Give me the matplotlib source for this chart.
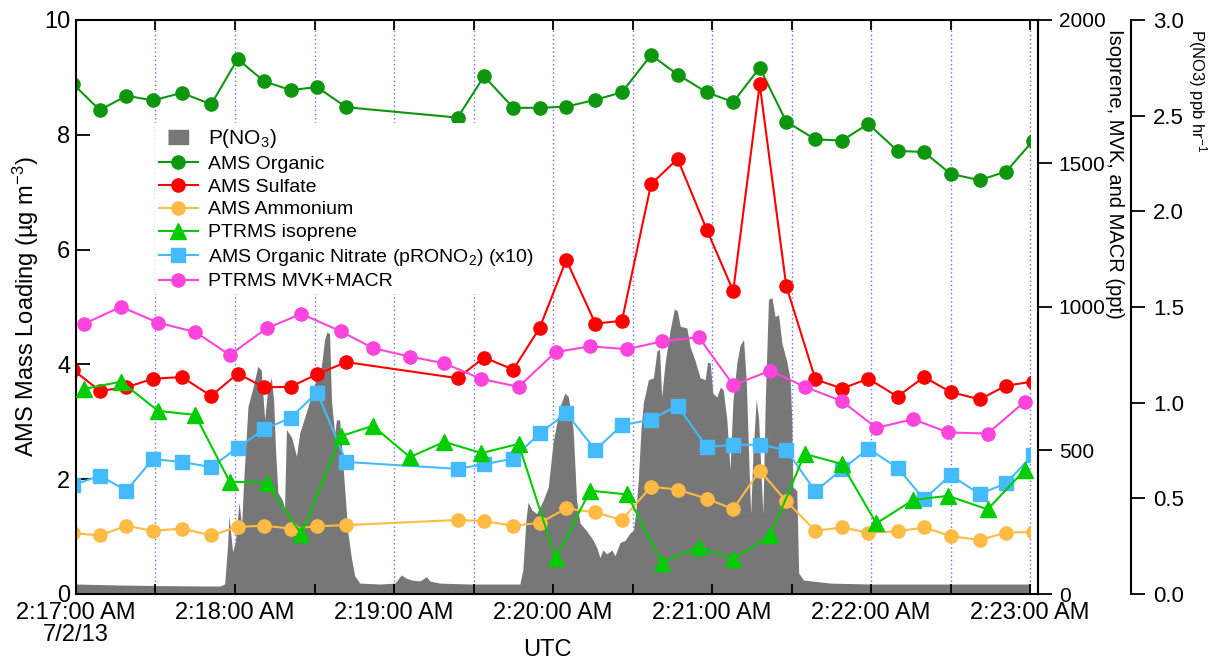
"""AMS mass loadings, PTRMS isoprene/MVK+MACR and P(NO3), 7/2/13."""

import matplotlib
matplotlib.use("Agg")
import matplotlib.pyplot as plt
from matplotlib.lines import Line2D
from matplotlib.patches import Rectangle
from matplotlib.ticker import FuncFormatter, MultipleLocator

plt.rcParams["font.family"] = ["Liberation Sans", "DejaVu Sans"]
plt.rcParams["mathtext.fontset"] = "custom"
plt.rcParams["mathtext.rm"] = "Liberation Sans"
plt.rcParams["mathtext.it"] = "Liberation Sans:italic"
plt.rcParams["mathtext.default"] = "regular"

# ===========================
# Dados (segundos após 2:17:00 UTC)
# ===========================

ams_t = [-1, 9, 19, 29, 40, 51, 61, 71, 81, 91, 102,
         144, 154, 165, 175, 185, 196, 206, 217, 227, 238,
         248, 258, 268, 279, 289, 299, 310, 320, 330, 341, 351, 361]

ams_organic = [8.88, 8.43, 8.68, 8.60, 8.73, 8.53, 9.32, 8.93, 8.78, 8.83, 8.48,
               8.30, 9.02, 8.47, 8.47, 8.49, 8.61, 8.74, 9.39, 9.05, 8.74,
               8.57, 9.17, 8.23, 7.92, 7.90, 8.19, 7.72, 7.70, 7.32, 7.21, 7.36, 7.89]

ams_sulfate = [3.90, 3.54, 3.60, 3.75, 3.78, 3.45, 3.84, 3.60, 3.61, 3.83, 4.04,
               3.76, 4.12, 3.91, 4.64, 5.82, 4.71, 4.76, 7.14, 7.58, 6.35,
               5.28, 8.88, 5.37, 3.74, 3.58, 3.75, 3.44, 3.78, 3.52, 3.39, 3.63, 3.70]

ams_ammonium = [1.06, 1.02, 1.19, 1.10, 1.14, 1.02, 1.17, 1.19, 1.14, 1.18, 1.20,
                1.29, 1.27, 1.19, 1.24, 1.49, 1.42, 1.29, 1.87, 1.82, 1.66,
                1.48, 2.15, 1.62, 1.10, 1.16, 1.07, 1.09, 1.16, 1.01, 0.94, 1.07, 1.08]

ams_org_nitrate = [0.190, 0.206, 0.180, 0.235, 0.230, 0.221, 0.255, 0.287, 0.307, 0.351, 0.230,
                   0.218, 0.226, 0.236, 0.280, 0.315, 0.251, 0.294, 0.304, 0.328, 0.256,
                   0.260, 0.260, 0.251, 0.179, 0.217, 0.253, 0.220, 0.165, 0.207, 0.174, 0.193, 0.242]

ptrms_t = [3, 17, 31, 45, 58, 72, 85, 100, 112, 126, 139, 153, 167, 181,
           194, 208, 221, 235, 248, 262, 275, 289, 302, 316, 329, 344, 358]

ptrms_isoprene = [714, 740, 638, 624, 391, 388, 209, 550, 586, 477, 530, 491, 523, 124,
                  360, 347, 109, 165, 121, 204, 488, 453, 246, 328, 342, 295, 432]

ptrms_mvk_macr = [941, 1001, 945, 913, 833, 926, 976, 915, 857, 827, 804, 749, 722, 843,
                  863, 853, 880, 895, 728, 778, 722, 672, 579, 609, 563, 559, 670]

pno3_t = [0, 16.4, 31.5, 46.6, 54.2, 56.1, 57.2, 57.7, 58.3, 59.1, 60.2, 61.5, 62.5, 63.3,
          64.9, 66.8, 68.6, 69.9, 71.2, 72.3, 73.7, 74.6, 75.3, 76.2, 77.9, 78.7, 79.4,
          81.3, 82.1, 83.2, 84.4, 86.9, 90.1, 92.6, 93.8, 94.7, 95.7, 96.4, 97.6, 98.3,
          99.5, 100.8, 102.6, 103.9, 105.2, 107.1, 114.6, 120.3, 122.8, 124.4, 126.7,
          129.7, 132.3, 133.5, 137.3, 148.6, 160.0, 167.5, 168.6, 169.8, 170.6, 172.0,
          173.8, 176.3, 178.2, 180.1, 182.6, 184.5, 185.8, 187.6, 188.9, 190.2, 192.7,
          195.2, 196.6, 197.7, 198.8, 200.3, 202.2, 203.4, 205.3, 207.2, 209.1, 210.3,
          211.3, 212.2, 213.2, 214.1, 216.0, 217.9, 219.2, 220.2, 221.0, 222.3, 224.2,
          225.8, 226.9, 228.0, 230.5, 231.8, 233.6, 235.5, 237.4, 238.3, 239.3, 240.3,
          241.8, 243.1, 244.2, 245.6, 246.8, 247.9, 249.4, 250.6, 251.9, 252.9, 254.0,
          254.6, 255.5, 256.7, 257.6, 258.6, 259.2, 260.1, 261.3, 262.6, 263.8, 265.1,
          266.4, 268.3, 269.5, 270.1, 270.5, 272.0, 272.7, 274.5, 284.6, 299.7, 329.9, 360.0]

pno3 = [0.052, 0.047, 0.044, 0.042, 0.042, 0.052, 0.256, 0.41, 0.33, 0.22, 0.28, 0.48, 0.36, 0.60,
        0.98, 1.08, 1.19, 1.17, 0.91, 1.07, 1.13, 1.01, 0.75, 0.53, 0.49, 0.45, 0.86,
        0.82, 0.78, 0.72, 0.84, 0.95, 1.10, 1.19, 1.33, 1.37, 1.36, 1.01, 0.84, 0.91,
        0.91, 0.66, 0.32, 0.19, 0.094, 0.057, 0.052, 0.057, 0.10, 0.084, 0.073,
        0.068, 0.090, 0.068, 0.057, 0.052, 0.052, 0.052, 0.125, 0.39, 0.48, 0.44,
        0.42, 0.49, 0.56, 0.80, 0.98, 1.05, 1.03, 0.86, 0.49, 0.37, 0.33,
        0.28, 0.24, 0.19, 0.23, 0.21, 0.23, 0.20, 0.27, 0.28, 0.32, 0.33,
        0.44, 0.60, 0.86, 1.00, 1.12, 1.13, 1.27, 1.28, 1.03, 1.21, 1.38,
        1.49, 1.48, 1.40, 1.39, 1.29, 1.22, 1.13, 1.12, 1.21, 1.21, 1.05,
        1.03, 1.08, 1.07, 0.91, 0.65, 1.01, 1.21, 1.30, 1.33, 1.12, 0.65,
        0.42, 0.75, 1.02, 0.91, 0.60, 0.42, 1.01, 1.54, 1.55, 1.45, 1.46,
        1.31, 1.21, 1.12, 0.91, 0.56, 0.54, 0.11, 0.073, 0.057, 0.052, 0.052, 0.052]

grade_t = [30, 60, 90, 120, 150, 180, 210, 240, 270, 300, 330, 360]

# ===========================
# Figura
# ===========================

fig = plt.figure(figsize=(12.14, 6.6), dpi=100)
ax = fig.add_axes([0.0626, 0.1, 0.7924, 0.8697])
ax2 = ax.twinx()
ax3 = ax.twinx()

# P(NO3) fica atrás de tudo
ax3.set_zorder(0)
ax.set_zorder(1)
ax2.set_zorder(2)
ax.patch.set_visible(False)

for t in grade_t:
    ax3.axvline(t, color="#6a6aff", lw=1.0, ls=(0, (1, 2)), zorder=0)

ax3.fill_between(pno3_t, pno3, color="#777777", lw=0, zorder=1)

# linhas do AMS são cortadas em 2:17:00 e 2:23:00
recorte = Rectangle((0, -100), 360, 200, transform=ax.transData)

estilo = dict(lw=1.5, ms=9.5)

l_org, = ax.plot(ams_t, ams_organic, "-o", color="#0e960e", label="AMS Organic", **estilo)
l_sul, = ax.plot(ams_t, ams_sulfate, "-o", color="#ff0000", label="AMS Sulfate", **estilo)
l_amm, = ax.plot(ams_t, ams_ammonium, "-o", color="#ffbb44", label="AMS Ammonium", **estilo)
l_nit, = ax.plot(ams_t, [v * 10 for v in ams_org_nitrate], "-s", color="#44bbff",
                 label="AMS Organic Nitrate (pRONO$_2$) (x10)", **estilo)
for linha in (l_org, l_sul, l_amm, l_nit):
    linha.set_clip_path(recorte)

l_iso, = ax2.plot(ptrms_t, ptrms_isoprene, "-^", color="#00cc00", lw=1.5, ms=11,
                  label="PTRMS isoprene")
l_mvk, = ax2.plot(ptrms_t, ptrms_mvk_macr, "-o", color="#ff44dd", label="PTRMS MVK+MACR",
                  **estilo)

# ===========================
# Eixos
# ===========================

ax.set_xlim(0, 363)
ax.set_ylim(0, 10)
ax2.set_ylim(0, 2000)
ax3.set_ylim(0, 3)


def hora_utc(s, pos):
    m, seg = divmod(int(round(s)), 60)
    texto = f"2:{17 + m:02d}:{seg:02d} AM"
    if m == 0 and seg == 0:
        texto += "\n7/2/13"
    return texto


ax.xaxis.set_major_locator(MultipleLocator(60))
ax.xaxis.set_minor_locator(MultipleLocator(30))
ax.xaxis.set_major_formatter(FuncFormatter(hora_utc))
ax.yaxis.set_major_locator(MultipleLocator(2))
ax2.yaxis.set_major_locator(MultipleLocator(500))
ax3.yaxis.set_major_locator(MultipleLocator(0.5))
ax3.yaxis.set_major_formatter(FuncFormatter(lambda v, p: f"{v:.1f}"))

ax.tick_params(axis="x", which="both", direction="in", top=True, length=7, width=1.3,
               labelsize=17, pad=6)
ax.tick_params(axis="y", direction="in", length=10, width=1.3, labelsize=17, pad=4)
ax2.tick_params(axis="y", direction="out", length=10, width=1.3, labelsize=15, pad=5)
ax3.tick_params(axis="y", direction="out", length=10, width=1.3, labelsize=16, pad=6)

for lbl in ax.get_xticklabels():
    lbl.set_linespacing(1.0)

for s in ax.spines.values():
    s.set_linewidth(1.5)
for nome in ("left", "top", "bottom"):
    ax2.spines[nome].set_visible(False)
    ax3.spines[nome].set_visible(False)
ax2.spines["right"].set_linewidth(1.5)
ax3.spines["right"].set_linewidth(1.5)
ax3.spines["right"].set_position(("outward", 67))

ax.set_ylabel("AMS Mass Loading (µg m$^{-3}$)", fontsize=17)
ax.yaxis.set_label_coords(-0.036, 0.5)
ax.set_xlabel("UTC", fontsize=17)
ax.xaxis.set_label_coords(0.49, -0.078)

ax.text(1.080, 0.985, "Isoprene, MVK, and MACR (ppt)", transform=ax.transAxes,
        rotation=270, ha="center", va="top", fontsize=14.5)
ax.text(1.166, 0.985, "P(NO3) ppb hr$^{-1}$", transform=ax.transAxes,
        rotation=270, ha="center", va="top", fontsize=12)

# ===========================
# Legenda
# ===========================

retangulo = [(-1, -0.7), (1, -0.7), (1, 0.7), (-1, 0.7)]
h_pno3 = Line2D([], [], ls="none", marker=retangulo, ms=15, color="#777777",
                label="P(NO$_3$)")

leg = ax.legend(
    handles=[h_pno3, l_org, l_sul, l_amm, l_iso, l_nit, l_mvk],
    loc="upper left",
    bbox_to_anchor=(155 / 1214, 1 - 123 / 660),
    bbox_transform=fig.transFigure,
    frameon=True,
    fancybox=False,
    edgecolor="none",
    facecolor="white",
    framealpha=1,
    fontsize=14,
    handlelength=2.0,
    handletextpad=0.5,
    labelspacing=0.27,
    borderpad=0.2,
    borderaxespad=0,
)
leg.get_texts()[0].set_fontsize(15)

fig.savefig("out.png", dpi=100)
